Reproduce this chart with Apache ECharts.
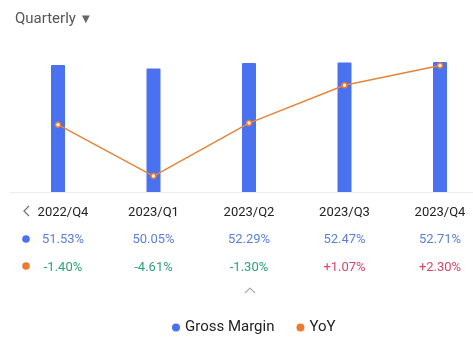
<!DOCTYPE html>
<html><head><meta charset="utf-8">
<script src="https://cdn.jsdelivr.net/npm/echarts@6/dist/echarts.min.js"></script>
<style>html,body{margin:0;padding:0;background:#fff}#c{width:473px;height:338px}</style>
</head><body><div id="c"></div>
<script>
var categories = ['2022/Q4','2023/Q1','2023/Q2','2023/Q3','2023/Q4'];
var grossMargin = [51.53, 50.05, 52.29, 52.47, 52.71];
var yoy = [-1.40, -4.61, -1.30, 1.07, 2.30];
var titleText = 'Quarterly';
var legendNames = ['Gross Margin', 'YoY'];

var FONT = 'Roboto, "Noto Sans", sans-serif';
var BLUE = '#4A72F0', ORANGE = '#EE7B2C';
function fmt(v){ return v.toFixed(2) + '%'; }
function fmtSigned(v){ return (v > 0 ? '+' : '') + v.toFixed(2) + '%'; }

var chart = echarts.init(document.getElementById('c'), null, {renderer:'canvas'});
var gridTop = 44, gridBottomY = 192;
chart.setOption({
  animation:false,
  title:{text:titleText + '{t|\u25BC}', left:10, top:7,
    textStyle:{fontFamily:FONT, fontSize:15, fontWeight:'normal', color:'#555',
      rich:{t:{fontFamily:'DejaVu Sans', fontSize:10, color:'#666', padding:[0,0,0,6]}}}},
  legend:{data:[{name:legendNames[0], icon:'circle', itemStyle:{color:BLUE}},
                {name:legendNames[1], icon:'circle', itemStyle:{color:ORANGE, borderWidth:0}}],
    top:315, left:167, itemWidth:8, itemHeight:8, itemGap:22,
    textStyle:{fontFamily:FONT, fontSize:15, color:'#222'}},
  grid:{left:58, right:33, top:gridTop, bottom:338-gridBottomY, containLabel:false},
  xAxis:[
    {type:'category', data:categories, boundaryGap:false, gridIndex:0, position:'bottom',
     axisLine:{show:false}, axisTick:{show:false},
     axisLabel:{interval:0, hideOverlap:false, margin:14, fontFamily:FONT, fontSize:13, color:'#222',
       formatter:function(v,i){ return i===0 ? '{f|'+v+'}' : v; },
       rich:{f:{padding:[0,0,0,10], fontFamily:FONT, fontSize:13, color:'#222'}}}},
    {type:'category', data:categories, boundaryGap:false, gridIndex:0, position:'bottom', offset:28,
     axisLine:{show:false}, axisTick:{show:false},
     axisLabel:{interval:0, hideOverlap:false, margin:13, fontFamily:FONT, fontSize:13, color:'#5B7FDB',
       formatter:function(v,i){ var t = fmt(grossMargin[i]); return i===0 ? '{f|'+t+'}' : t; },
       rich:{f:{padding:[0,0,0,10], fontFamily:FONT, fontSize:13, color:'#5B7FDB'}}}},
    {type:'category', data:categories, boundaryGap:false, gridIndex:0, position:'bottom', offset:55,
     axisLine:{show:false}, axisTick:{show:false},
     axisLabel:{interval:0, hideOverlap:false, margin:14, fontFamily:FONT, fontSize:13,
       formatter:function(v,i){ var x = yoy[i]; var t = fmtSigned(x); var s = x < 0 ? 'neg' : 'pos'; if(i===0) s += 'f'; return '{'+s+'|'+t+'}'; },
       rich:{neg:{color:'#2EA27A', fontFamily:FONT, fontSize:13}, pos:{color:'#D9466A', fontFamily:FONT, fontSize:13},
             negf:{color:'#2EA27A', fontFamily:FONT, fontSize:13, padding:[0,0,0,10]}, posf:{color:'#D9466A', fontFamily:FONT, fontSize:13, padding:[0,0,0,10]}}}}
  ],
  yAxis:[
    {type:'value', min:0, max:60, show:false, splitLine:{show:false}},
    {type:'value', min:-5.606, max:3.644, show:false, splitLine:{show:false}}
  ],
  series:[
    {name:legendNames[0], type:'bar', data:grossMargin, barWidth:14, xAxisIndex:0, yAxisIndex:0,
     itemStyle:{color:BLUE, borderRadius:[1,1,0,0]}},
    {name:legendNames[1], type:'line', data:yoy, xAxisIndex:0, yAxisIndex:1, smooth:false,
     symbol:'circle', symbolSize:5, lineStyle:{color:'#E5843A', width:1.5},
     itemStyle:{color:'#FFF1E0', borderColor:ORANGE, borderWidth:1.5}}
  ],
  color:[BLUE, ORANGE],
  graphic:[
    {type:'line', shape:{x1:10, y1:192.5, x2:473, y2:192.5}, style:{stroke:'#EDEDED', lineWidth:1}, z:-1},
    {type:'polyline', shape:{points:[[29,206],[24,211],[29,216]]}, style:{stroke:'#777', lineWidth:1.3, fill:null}},
    {type:'circle', shape:{cx:26, cy:239, r:3.8}, style:{fill:'#4A72F0'}},
    {type:'circle', shape:{cx:26, cy:266, r:3.8}, style:{fill:ORANGE}},
    {type:'polyline', shape:{points:[[245,293],[250,288],[255,293]]}, style:{stroke:'#AAA', lineWidth:1.2, fill:null}}
  ]
});
</script></body></html>
